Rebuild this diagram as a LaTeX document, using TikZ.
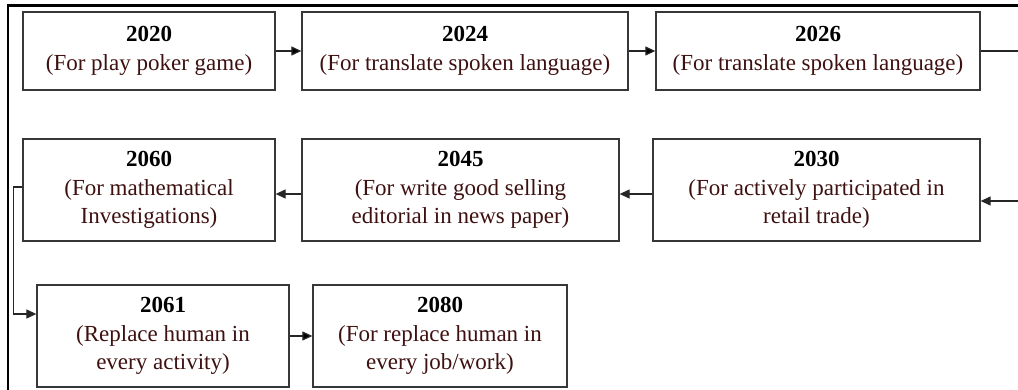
\documentclass[tikz,border=0pt]{standalone}
\usepackage{fontspec}
\setmainfont{Liberation Serif}
\usetikzlibrary{positioning}
\usetikzlibrary{arrows.meta}
\definecolor{boxline}{RGB}{55,55,55}
\definecolor{notered}{RGB}{62,16,16}
\newcommand{\yr}[1]{\textcolor{black}{\textbf{#1}}}

\begin{document}
\begin{tikzpicture}[x=1pt,y=1pt,on grid,>={Triangle[length=10pt,width=9pt]},
		stagebox/.style={rectangle,draw=boxline,line width=1.3pt,inner sep=0pt,align=center,
			text=notered,font=\fontsize{23}{28.5}\selectfont,minimum width=252pt,minimum height=102pt},
		link/.style={->,draw=black!85,line width=1.2pt}]
		\clip (0,0) rectangle (1018,-390);
		% outer frame, only top and left are seen
		\draw[line width=2.2pt] (1030,-5.5) -- (8,-5.5) -- (8,-400);
		
		\node[stagebox,minimum height=78pt]  (poker)  at (149,-51)       {\yr{2020}\\(For play poker game)};
		\node[stagebox,minimum height=78pt,minimum width=326pt]  (transA) [right=316pt of poker]   {\yr{2024}\\(For translate spoken language)};
		\node[stagebox,minimum height=78pt,minimum width=324pt]  (transB) [right=353pt of transA]  {\yr{2026}\\(For translate spoken language)};
		\node[stagebox,minimum width=327pt]  (retail)    [below=139pt of transB,xshift=-1.5pt] {\yr{2030}\\(For actively participated in\\retail trade)};
		\node[stagebox,minimum width=317pt]  (editorial) [left=356pt of retail]  {\yr{2045}\\(For write good selling\\editorial in news paper)};
		\node[stagebox]  (math)  [below=139pt of poker]        {\yr{2060}\\(For mathematical\\Investigations)};
		\node[stagebox]  (replA) [below=146pt of math,xshift=14pt] {\yr{2061}\\(Replace human in\\every activity)};
		\node[stagebox,minimum width=254pt]  (replB) [right=277pt of replA]  {\yr{2080}\\(For replace human in\\every job/work)};
		
		\path[link]
		(poker) edge (transA)
		(transA) edge (transB)
		(replA) edge (replB);
		
		\draw[link] (transB.east) -- ++(60,0) |- ([yshift=-11pt]retail.east);
		\draw[link] ([yshift=-4pt]retail.west) -- ([yshift=-4pt]editorial.east);
		\draw[link] ([yshift=-4pt]editorial.west) -- ([yshift=-4pt]math.east);
		\draw[link] ([yshift=3pt]math.west) -- ++(-9,0) |- ([yshift=22pt]replA.west);
\end{tikzpicture}
\end{document}
